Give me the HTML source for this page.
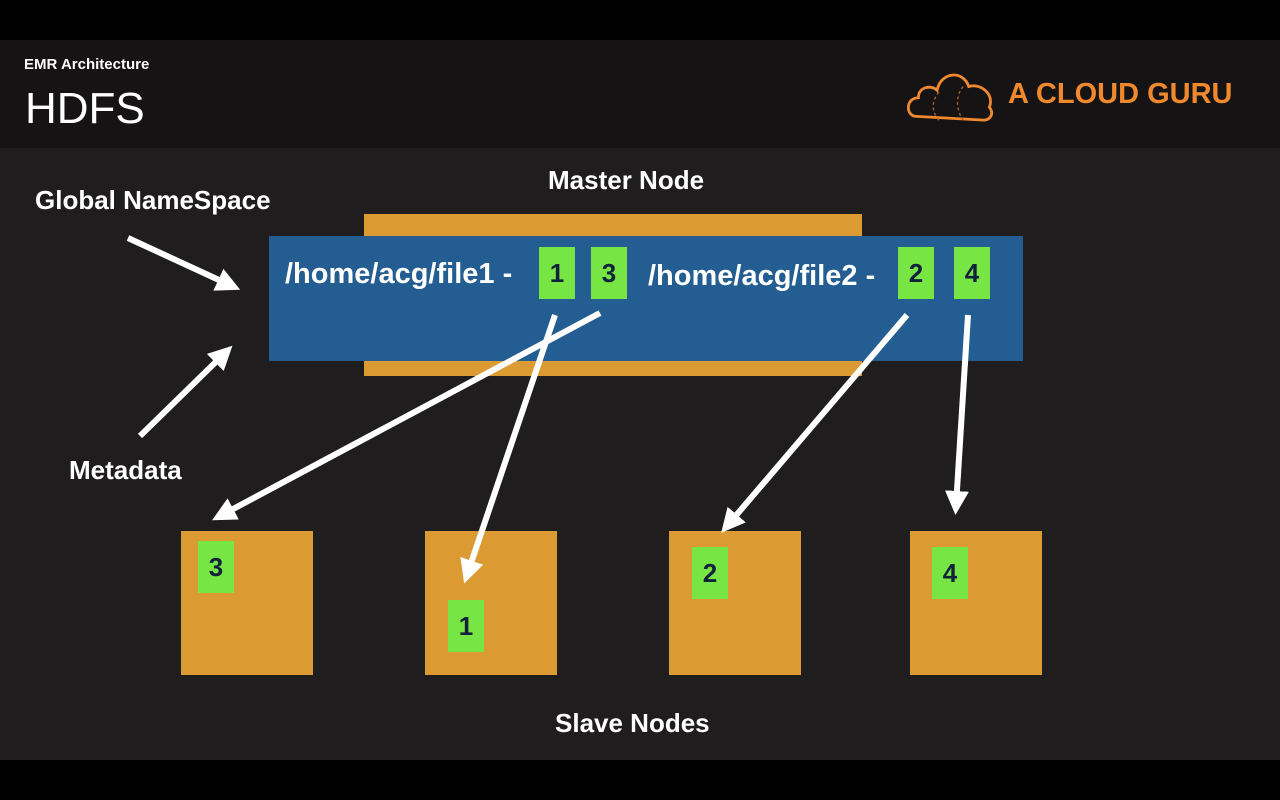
<!DOCTYPE html>
<html><head><meta charset="utf-8"><style>
body{margin:0;width:1280px;height:800px;background:#000;position:relative;overflow:hidden;font-family:"Liberation Sans",sans-serif}
.a{position:absolute}
.g{position:absolute;background:#77e645;color:#10233a;font-weight:bold;font-size:26px;text-align:center;width:36px;height:52px;line-height:52px}
.s{position:absolute;background:#dc9a33;width:132px;height:144px;top:531px}
.w{position:absolute;color:#fff;font-weight:bold;white-space:nowrap}
</style></head><body>
<div class="a" style="left:0;top:40px;width:1280px;height:108px;background:#151314"></div>
<div class="a" style="left:0;top:148px;width:1280px;height:612px;background:#1f1d1e"></div>
<div class="w" style="left:24px;top:56px;font-size:15px">EMR Architecture</div>
<div class="a" style="left:25px;top:84px;font-size:44px;color:#fff">HDFS</div>
<svg class="a" style="left:904px;top:66px" width="96" height="56" viewBox="0 0 100 60"><path d="M12 54 C0 54 0 34 14 34 C14 22 28 20 34 26 C38 6 62 4 68 22 C80 18 96 30 90 44 C96 52 90 58 84 58 Z" fill="none" stroke="#f0882e" stroke-width="3"/><path d="M36 28 C26 40 30 52 36 58 M62 22 C52 34 56 50 62 58" fill="none" stroke="#a86028" stroke-width="1.5" stroke-dasharray="3 3"/></svg>
<div class="w" style="left:1008px;top:78px;font-size:29px;color:#f0882e">A CLOUD GURU</div>
<div class="w" style="left:548px;top:165px;font-size:26px">Master Node</div>
<div class="w" style="left:35px;top:185px;font-size:26px">Global NameSpace</div>
<div class="w" style="left:69px;top:455px;font-size:26px">Metadata</div>
<div class="w" style="left:555px;top:708px;font-size:26px">Slave Nodes</div>
<div class="a" style="left:364px;top:214px;width:498px;height:162px;background:#dc9a33"></div>
<div class="a" style="left:269px;top:236px;width:754px;height:125px;background:#235d91"></div>
<div class="w" style="left:285px;top:258px;font-size:29px">/home/acg/file1 -</div>
<div class="w" style="left:648px;top:260px;font-size:29px">/home/acg/file2 -</div>
<div class="g" style="left:539px;top:247px">1</div>
<div class="g" style="left:591px;top:247px">3</div>
<div class="g" style="left:898px;top:247px">2</div>
<div class="g" style="left:954px;top:247px">4</div>
<div class="s" style="left:181px"></div><div class="s" style="left:425px"></div><div class="s" style="left:669px"></div><div class="s" style="left:910px"></div>
<div class="g" style="left:198px;top:541px">3</div>
<div class="g" style="left:448px;top:600px">1</div>
<div class="g" style="left:692px;top:547px">2</div>
<div class="g" style="left:932px;top:547px">4</div>
<svg class="a" style="left:0;top:0" width="1280" height="800">
<defs><marker id="m" markerWidth="4" markerHeight="4" refX="2.5" refY="2" orient="auto"><path d="M0,0 L4,2 L0,4 Z" fill="#fff"/></marker></defs>
<g stroke="#fff" stroke-width="6" marker-end="url(#m)">
<line x1="128" y1="238" x2="232" y2="286"/>
<line x1="140" y1="436" x2="226" y2="352"/>
<line x1="600" y1="313" x2="220" y2="516"/>
<line x1="555" y1="315" x2="467" y2="575"/>
<line x1="907" y1="315" x2="727" y2="526"/>
<line x1="968" y1="315" x2="956" y2="506"/>
</g></svg>
</body></html>
